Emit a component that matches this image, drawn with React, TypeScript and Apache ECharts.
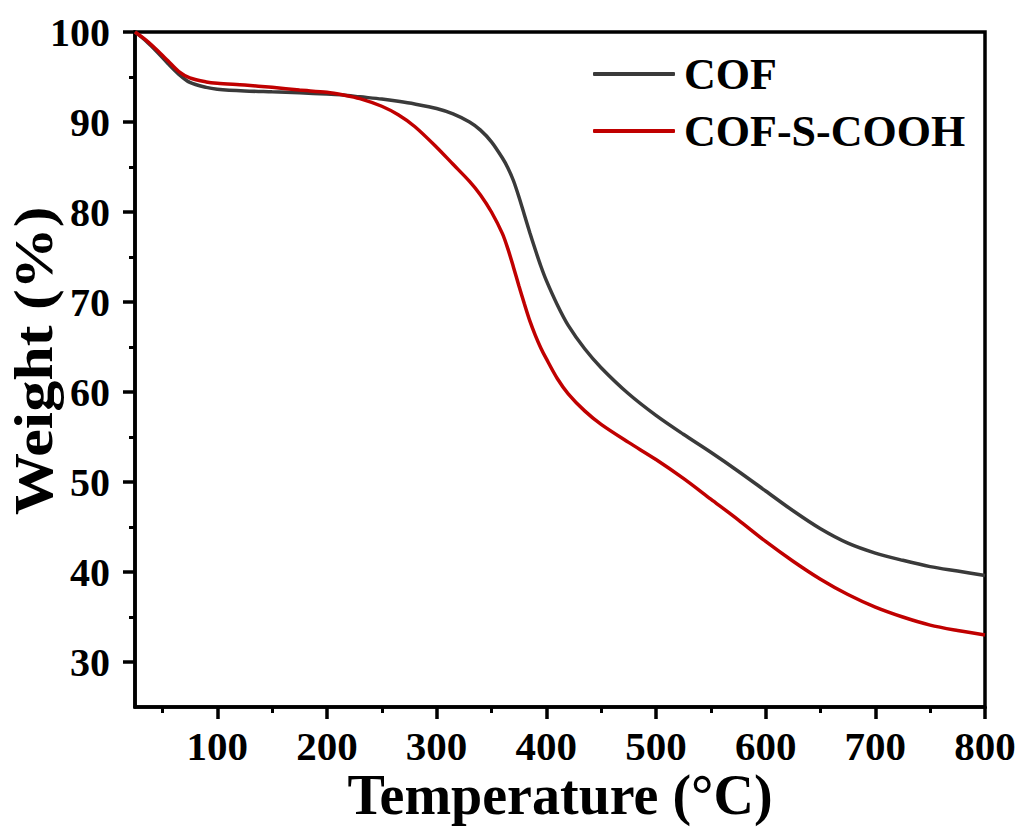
import React, { useEffect, useRef } from "react";
import * as echarts from "echarts";

const temperatures = [25, 35, 45, 55, 65, 75, 90, 100, 125, 150, 175, 200, 215, 230, 250, 265, 280, 300, 315, 330, 340, 350, 360, 365, 370, 375, 380, 385, 390, 395, 400, 410, 420, 435, 450, 475, 500, 525, 550, 575, 600, 625, 650, 675, 700, 725, 750, 775, 800];
const cofWeight = [100, 99.0, 97.8, 96.5, 95.3, 94.4, 93.85, 93.65, 93.45, 93.35, 93.25, 93.1, 93.0, 92.8, 92.55, 92.3, 92.0, 91.5, 90.9, 90.0, 89.1, 87.8, 86.0, 84.9, 83.5, 81.7, 79.7, 77.7, 75.8, 74.0, 72.4, 69.7, 67.4, 64.8, 62.7, 59.8, 57.4, 55.3, 53.3, 51.2, 49.0, 46.8, 44.8, 43.2, 42.1, 41.3, 40.6, 40.1, 39.6];
const cofSCoohWeight = [100, 99.1, 98.0, 96.8, 95.6, 94.9, 94.45, 94.3, 94.1, 93.85, 93.55, 93.3, 93.0, 92.6, 91.75, 90.8, 89.5, 87.2, 85.3, 83.4, 81.9, 80.0, 77.6, 75.9, 73.9, 71.8, 69.8, 67.9, 66.3, 64.9, 63.7, 61.5, 59.8, 57.9, 56.4, 54.4, 52.5, 50.4, 48.1, 45.8, 43.4, 41.2, 39.2, 37.5, 36.1, 35.0, 34.1, 33.5, 33.0];

const xMajorTicks = [100, 200, 300, 400, 500, 600, 700, 800];
const xMinorTicks = [50, 150, 250, 350, 450, 550, 650, 750];
const yMajorTicks = [30, 40, 50, 60, 70, 80, 90, 100];
const yMinorTicks = [35, 45, 55, 65, 75, 85, 95];

const seriesNames = ["COF", "COF-S-COOH"];
const seriesColors = ["#3a3a3a", "#c00000"];

const FONT = '"Liberation Serif", "Times New Roman", serif';

export default function App() {
  const ref = useRef<HTMLDivElement>(null);
  useEffect(() => {
    if (!ref.current) return;
    const chart = echarts.init(ref.current, undefined, { renderer: "svg" });
    const labelStyle = { color: "#000", fontFamily: FONT, fontWeight: "bold" as const };
    chart.setOption({
      animation: false,
      backgroundColor: "#fff",
      grid: {
        left: 135,
        right: 38,
        top: 32,
        bottom: 122,
        outerBoundsMode: "none",
        containLabel: false,
        show: true,
        borderColor: "#000",
        borderWidth: 3.5,
      },
      legend: {
        data: seriesNames,
        orient: "vertical",
        left: 588,
        top: 47,
        itemWidth: 82,
        itemHeight: 4,
        itemGap: 13,
        icon: "roundRect",
        textStyle: { ...labelStyle, fontSize: 44, padding: [0, 0, 0, 4] },
      },
      xAxis: [
        {
          type: "value",
          position: "bottom",
          min: 25,
          max: 800,
          name: "Temperature (°C)",
          nameLocation: "middle",
          nameGap: 66,
          nameMoveOverlap: false,
          nameTextStyle: { ...labelStyle, fontSize: 56, lineHeight: 44 },
          axisLine: { show: true, lineStyle: { color: "#000", width: 3.5 } },
          axisTick: { show: true, customValues: xMajorTicks, length: 12, lineStyle: { color: "#000", width: 3.5 } },
          axisLabel: { ...labelStyle, customValues: xMajorTicks, fontSize: 41, lineHeight: 32, margin: 23 },
          splitLine: { show: false },
        },
        {
          type: "value",
          position: "bottom",
          min: 25,
          max: 800,
          axisLine: { show: false },
          axisTick: { show: true, customValues: xMinorTicks, length: 6, lineStyle: { color: "#000", width: 3 } },
          axisLabel: { show: false },
          splitLine: { show: false },
        },
      ],
      yAxis: [
        {
          type: "value",
          position: "left",
          min: 25,
          max: 100,
          axisLine: { show: true, lineStyle: { color: "#000", width: 3.5 } },
          axisTick: { show: true, customValues: yMajorTicks, length: 12, lineStyle: { color: "#000", width: 3.5 } },
          axisLabel: { ...labelStyle, customValues: yMajorTicks, fontSize: 40, margin: 25 },
          splitLine: { show: false },
        },
        {
          type: "value",
          position: "left",
          min: 25,
          max: 100,
          axisLine: { show: false },
          axisTick: { show: true, customValues: yMinorTicks, length: 6, lineStyle: { color: "#000", width: 3 } },
          axisLabel: { show: false },
          splitLine: { show: false },
        },
      ],
      graphic: [
        {
          type: "text",
          x: 34,
          y: 361,
          rotation: Math.PI / 2,
          scaleX: 1.15,
          style: {
            text: "Weight (%)",
            fontSize: 54,
            fontWeight: "bold",
            fontFamily: FONT,
            fill: "#000",
            align: "center",
            verticalAlign: "middle",
          },
        },
      ],
      series: [
        {
          name: seriesNames[0],
          type: "line",
          xAxisIndex: 0,
          yAxisIndex: 0,
          showSymbol: false,
          smooth: 0.3,
          color: seriesColors[0],
          lineStyle: { color: seriesColors[0], width: 3.5 },
          data: temperatures.map((t, i) => [t, cofWeight[i]]),
          z: 3,
        },
        {
          name: seriesNames[1],
          type: "line",
          xAxisIndex: 0,
          yAxisIndex: 0,
          showSymbol: false,
          smooth: 0.3,
          color: seriesColors[1],
          lineStyle: { color: seriesColors[1], width: 3.5 },
          data: temperatures.map((t, i) => [t, cofSCoohWeight[i]]),
          z: 4,
        },
      ],
    });
    return () => chart.dispose();
  }, []);
  return (
    <div
      ref={ref}
      style={{ position: "fixed", left: 0, top: 0, width: 1023, height: 829, background: "#fff" }}
    />
  );
}
